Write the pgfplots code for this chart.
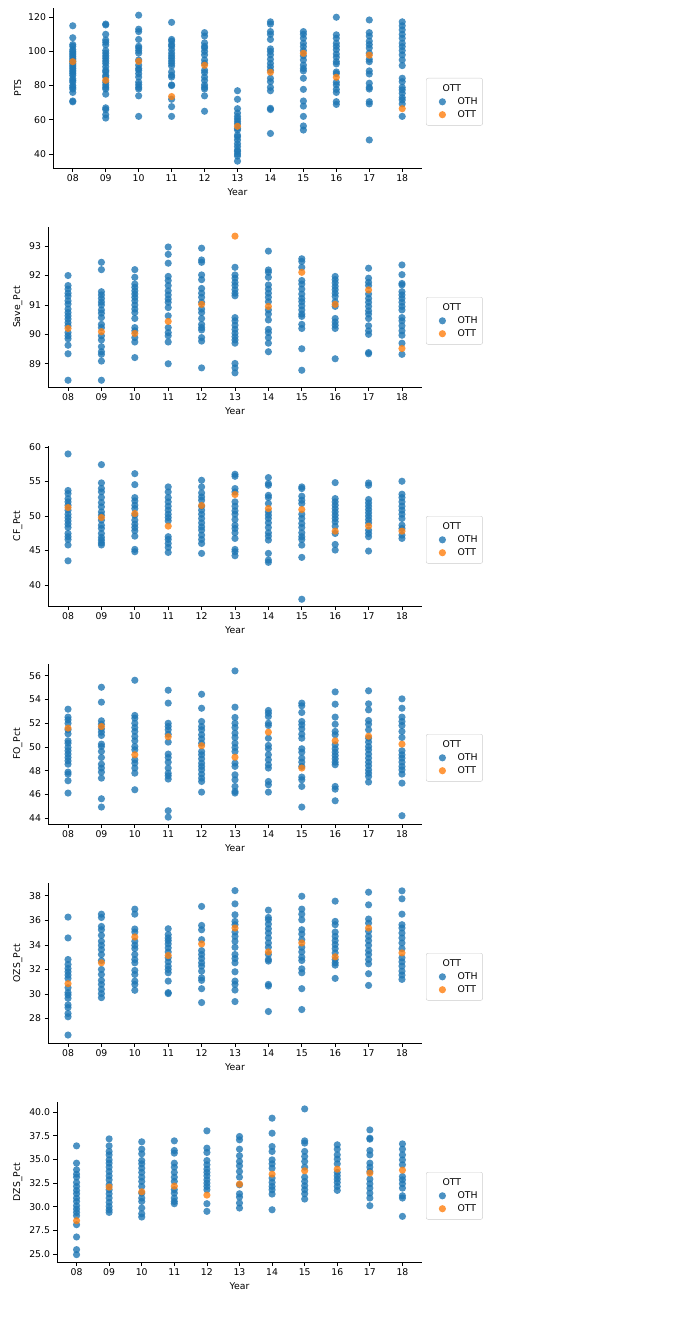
\documentclass[border=0pt]{standalone}
\usepackage{fontspec}
\setmainfont{DejaVu Sans}
\usepackage{pgfplots}
\pgfplotsset{compat=1.18}
\definecolor{c0}{HTML}{1F77B4}
\definecolor{c1}{HTML}{FF7F0E}
\definecolor{legendgray}{HTML}{CCCCCC}
\newcommand{\fs}{\fontsize{9.3}{11}\selectfont}
\pgfplotsset{
  panel/.style={
    scale only axis, height=160pt, anchor=south west,
    xmin=-0.6, xmax=10.6,
    xtick={0,1,2,3,4,5,6,7,8,9,10},
    xticklabels={08,09,10,11,12,13,14,15,16,17,18},
    axis lines=left, axis line style={-, line width=0.8pt, black},
    tick align=outside, major tick length=3.5pt,
    tick style={line width=0.8pt, black},
    xlabel={Year},
    ticklabel style={font=\fs},
    label style={font=\fs},
    /pgf/number format/assume math mode=true,
    legend style={at={(1,1)}, anchor=north west, xshift=4pt, yshift=-70pt,
      draw=legendgray, rounded corners=2pt, fill=white, fill opacity=0.8, text opacity=1,
      font=\fs, row sep=0.5pt, inner xsep=3pt, inner ysep=4.5pt},
    legend cell align=left,
  },
  oth/.style={only marks, mark=*, mark size=3.6pt,
    mark options={fill=c0, draw=c0, fill opacity=0.8, draw opacity=0},
    legend image code/.code={\path (0pt,0pt) (26pt,0pt); \draw[##1] plot coordinates {(13pt,0pt)};}},
  ott/.style={only marks, mark=*, mark size=3.6pt,
    mark options={fill=c1, draw=c1, fill opacity=0.8, draw opacity=0},
    legend image code/.code={\path (0pt,0pt) (26pt,0pt); \draw[##1] plot coordinates {(13pt,0pt)};}},
}
\begin{document}
\begin{tikzpicture}
\useasboundingbox (0,0) rectangle (697pt,-1336pt);
% ---------------- PTS
\begin{axis}[panel, at={(53pt,-168pt)}, width=369pt, ymin=31.8, ymax=125.4,
  ytick={40,60,80,100,120}, ylabel={PTS}]
\addlegendimage{empty legend}\addlegendentry{\hspace*{-15pt}OTT}
\addplot[oth] coordinates {
(0,115)(0,108)(0,104)(0,103)(0,101)(0,100)(0,99)(0,98)(0,97)(0,96)(0,95)(0,94)(0,93)(0,92)(0,91)(0,90)(0,89)(0,88)(0,87)(0,86)(0,84)(0,83)(0,82)(0,80)(0,79)(0,78)(0,76)(0,71)(0,70.5)
(1,116)(1,115.5)(1,110)(1,106.7)(1,105.4)(1,103.8)(1,100.5)(1,99)(1,97.4)(1,96)(1,94.4)(1,93)(1,91)(1,89)(1,88)(1,86)(1,85)(1,82)(1,80.4)(1,79)(1,78)(1,75)(1,67)(1,66)(1,63)(1,61)
(2,121.2)(2,113)(2,111.6)(2,107)(2,103)(2,102)(2,100.5)(2,99)(2,95)(2,92)(2,90)(2,89)(2,87)(2,85)(2,82)(2,80.5)(2,79)(2,78)(2,74)(2,62)
(3,117)(3,107)(3,106)(3,104)(3,103)(3,101)(3,99)(3,97.4)(3,96)(3,94.4)(3,93)(3,91.5)(3,88)(3,86)(3,85)(3,80.4)(3,80)(3,72)(3,67.7)(3,62)
(4,111)(4,109)(4,105)(4,103)(4,102)(4,100)(4,98)(4,95)(4,93)(4,89)(4,87.6)(4,85)(4,83)(4,80.4)(4,79)(4,78)(4,74)(4,65)
(5,77)(5,72)(5,66.5)(5,64)(5,62)(5,60.5)(5,59)(5,57.6)(5,55)(5,54)(5,51)(5,50)(5,48.2)(5,46)(5,44.3)(5,42.3)(5,41.4)(5,40)(5,38.8)(5,35.8)
(6,117.3)(6,116)(6,111.6)(6,110)(6,107)(6,101.5)(6,100)(6,98)(6,95.4)(6,93)(6,91)(6,89)(6,84.3)(6,82.3)(6,79)(6,77)(6,66.7)(6,66)(6,52)
(7,111.6)(7,110)(7,107.7)(7,104.8)(7,102.8)(7,100.5)(7,97.4)(7,95)(7,92)(7,90)(7,88.6)(7,84.3)(7,77.8)(7,71)(7,68)(7,62)(7,56.4)(7,54)
(8,120)(8,109.7)(8,107.7)(8,104.8)(8,103)(8,101)(8,98.5)(8,96.6)(8,94)(8,92.7)(8,88)(8,87)(8,82)(8,80.4)(8,77.8)(8,76)(8,70.6)(8,69)
(9,118.4)(9,111)(9,109)(9,106)(9,104)(9,102)(9,99)(9,95.4)(9,94)(9,88.6)(9,86.8)(9,81.4)(9,79)(9,78)(9,70.6)(9,69.3)(9,48.2)
(10,117.3)(10,115)(10,112.6)(10,110)(10,107.7)(10,104.8)(10,102.8)(10,100.5)(10,98)(10,95)(10,91.7)(10,84.3)(10,82.3)(10,79)(10,77.5)(10,75.5)(10,73)(10,71.6)(10,69.3)(10,62)
};
\addlegendentry{OTH}
\addplot[ott] coordinates {(0,94.0)(1,83.1)(2,94.2)(3,73.6)(4,91.9)(5,56.2)(6,87.8)(7,98.9)(8,84.9)(9,97.8)(10,66.5)};
\addlegendentry{OTT}
\end{axis}
% ---------------- Save_Pct
\begin{axis}[panel, at={(48pt,-387pt)}, width=374pt, ymin=88.21, ymax=93.65,
  ytick={89,90,91,92,93}, ylabel={Save\_Pct}]
\addlegendimage{empty legend}\addlegendentry{\hspace*{-15pt}OTT}
\addplot[oth] coordinates {
(0,92.0)(0,91.66)(0,91.54)(0,91.4)(0,91.3)(0,91.14)(0,91.03)(0,90.86)(0,90.74)(0,90.63)(0,90.52)(0,90.4)(0,90.29)(0,90.06)(0,89.95)(0,89.85)(0,89.63)(0,89.34)(0,88.44)
(1,92.45)(1,92.2)(1,91.45)(1,91.34)(1,91.22)(1,91.1)(1,91.0)(1,90.83)(1,90.72)(1,90.57)(1,90.34)(1,90.23)(1,89.95)(1,89.81)(1,89.58)(1,89.41)(1,89.32)(1,89.09)(1,88.44)
(2,92.2)(2,91.94)(2,91.71)(2,91.6)(2,91.48)(2,91.37)(2,91.26)(2,91.14)(2,91.0)(2,90.86)(2,90.74)(2,90.54)(2,90.23)(2,90.12)(2,89.89)(2,89.74)(2,89.21)
(3,92.97)(3,92.72)(3,92.42)(3,91.97)(3,91.83)(3,91.66)(3,91.48)(3,91.34)(3,91.2)(3,91.09)(3,90.91)(3,90.63)(3,90.23)(3,90.06)(3,89.95)(3,89.74)(3,89.0)
(4,92.93)(4,92.53)(4,92.45)(4,92.02)(4,91.86)(4,91.56)(4,91.4)(4,91.26)(4,91.09)(4,90.86)(4,90.74)(4,90.54)(4,90.34)(4,90.23)(4,90.15)(4,89.89)(4,89.77)(4,88.86)
(5,92.28)(5,92.02)(5,91.91)(5,91.77)(5,91.66)(5,91.52)(5,91.4)(5,91.31)(5,90.57)(5,90.46)(5,90.31)(5,90.17)(5,90.04)(5,89.92)(5,89.81)(5,89.7)(5,89.01)(5,88.86)(5,88.69)
(6,92.83)(6,92.19)(6,92.11)(6,91.94)(6,91.68)(6,91.54)(6,91.4)(6,91.26)(6,91.11)(6,90.83)(6,90.69)(6,90.49)(6,90.17)(6,90.06)(6,89.89)(6,89.7)(6,89.41)
(7,92.57)(7,92.48)(7,92.28)(7,91.83)(7,91.71)(7,91.54)(7,91.37)(7,91.22)(7,91.11)(7,90.97)(7,90.83)(7,90.69)(7,90.61)(7,90.34)(7,90.2)(7,89.51)(7,88.78)
(8,91.97)(8,91.86)(8,91.75)(8,91.63)(8,91.52)(8,91.4)(8,91.29)(8,91.11)(8,90.95)(8,90.54)(8,90.42)(8,90.31)(8,90.2)(8,89.17)
(9,92.25)(9,91.91)(9,91.77)(9,91.66)(9,91.37)(9,91.22)(9,91.09)(9,90.95)(9,90.8)(9,90.69)(9,90.54)(9,90.29)(9,90.12)(9,90.0)(9,89.38)(9,89.34)
(10,92.36)(10,92.03)(10,91.73)(10,91.68)(10,91.45)(10,91.34)(10,91.22)(10,91.09)(10,90.95)(10,90.83)(10,90.57)(10,90.46)(10,90.29)(10,90.12)(10,89.97)(10,89.7)(10,89.32)
};
\addlegendentry{OTH}
\addplot[ott] coordinates {(0,90.20)(1,90.09)(2,90.03)(3,90.44)(4,91.02)(5,93.34)(6,90.95)(7,92.11)(8,91.02)(9,91.51)(10,89.52)};
\addlegendentry{OTT}
\end{axis}
% ---------------- CF_Pct
\begin{axis}[panel, at={(48pt,-606pt)}, width=374pt, ymin=36.95, ymax=60.15,
  ytick={40,45,50,55,60}, ylabel={CF\_Pct}]
\addlegendimage{empty legend}\addlegendentry{\hspace*{-15pt}OTT}
\addplot[oth] coordinates {
(0,59.0)(0,53.7)(0,53.25)(0,52.5)(0,52.05)(0,51.57)(0,50.84)(0,50.26)(0,49.78)(0,49.3)(0,48.82)(0,48.34)(0,47.47)(0,47.0)(0,46.6)(0,45.8)(0,43.5)
(1,57.45)(1,54.8)(1,54.0)(1,53.5)(1,52.7)(1,51.95)(1,51.33)(1,50.6)(1,50.12)(1,49.4)(1,48.67)(1,48.2)(1,47.47)(1,46.9)(1,46.5)(1,46.1)(1,45.8)
(2,56.14)(2,54.55)(2,52.67)(2,52.19)(2,51.57)(2,51.08)(2,50.12)(2,49.4)(2,48.82)(2,48.34)(2,47.86)(2,47.08)(2,45.16)(2,44.82)
(3,54.22)(3,53.49)(3,52.67)(3,52.05)(3,51.42)(3,50.84)(3,50.26)(3,49.78)(3,49.3)(3,47.0)(3,46.6)(3,46.02)(3,45.45)(3,44.72)
(4,55.18)(4,54.22)(4,53.35)(4,52.77)(4,52.29)(4,51.42)(4,50.84)(4,50.26)(4,49.64)(4,49.01)(4,48.43)(4,47.95)(4,47.23)(4,46.6)(4,46.02)(4,44.58)
(5,56.05)(5,55.76)(5,53.98)(5,53.49)(5,52.05)(5,51.42)(5,50.75)(5,50.26)(5,49.49)(5,48.67)(5,48.19)(5,47.57)(5,46.75)(5,45.16)(5,44.82)(5,44.24)
(6,55.57)(6,54.7)(6,54.46)(6,53.0)(6,52.67)(6,51.81)(6,50.6)(6,50.12)(6,49.64)(6,49.01)(6,48.34)(6,47.57)(6,47.08)(6,46.51)(6,44.58)(6,43.61)(6,43.28)
(7,54.22)(7,53.98)(7,52.87)(7,52.29)(7,51.81)(7,50.26)(7,49.64)(7,48.92)(7,48.34)(7,47.57)(7,47.0)(7,46.6)(7,45.78)(7,44.0)(7,37.93)
(8,54.84)(8,52.53)(8,52.05)(8,51.57)(8,51.08)(8,50.6)(8,50.12)(8,49.64)(8,49.16)(8,48.53)(8,47.47)(8,45.88)(8,45.06)
(9,54.79)(9,54.46)(9,52.39)(9,51.9)(9,51.42)(9,50.94)(9,50.46)(9,49.98)(9,49.49)(9,49.01)(9,47.95)(9,47.47)(9,47.0)(9,44.92)
(10,55.04)(10,53.16)(10,52.67)(10,52.05)(10,51.42)(10,50.84)(10,50.26)(10,49.64)(10,48.67)(10,48.19)(10,47.23)(10,46.75)
};
\addlegendentry{OTH}
\addplot[ott] coordinates {(0,51.23)(1,49.78)(2,50.36)(3,48.53)(4,51.52)(5,53.11)(6,51.08)(7,50.94)(8,47.81)(9,48.53)(10,47.81)};
\addlegendentry{OTT}
\end{axis}
% ---------------- FO_Pct
\begin{axis}[panel, at={(48pt,-824pt)}, width=374pt, ymin=43.5, ymax=57.0,
  ytick={44,46,48,50,52,54,56}, ylabel={FO\_Pct}]
\addlegendimage{empty legend}\addlegendentry{\hspace*{-15pt}OTT}
\addplot[oth] coordinates {
(0,53.19)(0,52.52)(0,52.29)(0,52.0)(0,51.45)(0,51.11)(0,50.52)(0,50.32)(0,49.96)(0,49.68)(0,49.4)(0,49.11)(0,48.83)(0,48.55)(0,47.88)(0,47.71)(0,47.15)(0,46.11)
(1,55.04)(1,53.78)(1,52.21)(1,51.92)(1,51.53)(1,51.25)(1,50.97)(1,50.24)(1,50.04)(1,49.62)(1,49.11)(1,48.55)(1,48.22)(1,47.88)(1,47.37)(1,45.63)(1,44.93)
(2,55.63)(2,52.66)(2,52.43)(2,52.0)(2,51.64)(2,51.31)(2,50.89)(2,50.52)(2,50.04)(2,49.76)(2,48.92)(2,48.64)(2,48.22)(2,47.79)(2,46.39)
(3,54.79)(3,53.7)(3,52.0)(3,51.73)(3,51.45)(3,51.08)(3,50.41)(3,49.4)(3,49.11)(3,48.72)(3,48.22)(3,47.79)(3,47.57)(3,47.29)(3,44.62)(3,44.08)
(4,54.45)(4,53.27)(4,52.15)(4,51.73)(4,51.45)(4,51.03)(4,50.69)(4,50.32)(4,49.62)(4,49.34)(4,49.0)(4,48.64)(4,48.36)(4,48.07)(4,47.71)(4,47.37)(4,47.09)(4,46.19)
(5,56.42)(5,53.36)(5,52.49)(5,52.0)(5,51.64)(5,51.17)(5,50.8)(5,50.32)(5,49.96)(5,49.62)(5,48.64)(5,48.36)(5,47.65)(5,47.23)(5,46.67)(5,46.25)(5,46.11)
(6,53.08)(6,52.85)(6,52.57)(6,52.0)(6,51.81)(6,50.74)(6,50.13)(6,49.85)(6,49.34)(6,48.92)(6,48.5)(6,48.22)(6,47.09)(6,46.81)(6,46.19)
(7,53.7)(7,53.47)(7,52.91)(7,52.15)(7,51.87)(7,51.53)(7,51.08)(7,50.74)(7,49.85)(7,49.56)(7,49.06)(7,48.72)(7,48.36)(7,47.46)(7,47.23)(7,46.67)(7,44.93)
(8,54.65)(8,53.61)(8,52.52)(8,51.92)(8,51.31)(8,51.03)(8,50.18)(8,49.85)(8,49.56)(8,49.28)(8,49.0)(8,48.72)(8,48.5)(8,46.67)(8,46.44)(8,45.46)
(9,54.74)(9,53.64)(9,53.13)(9,52.23)(9,51.92)(9,51.45)(9,50.74)(9,50.41)(9,50.04)(9,49.76)(9,49.4)(9,49.06)(9,48.72)(9,48.41)(9,48.07)(9,47.79)(9,47.51)(9,47.04)
(10,54.06)(10,53.27)(10,52.52)(10,52.15)(10,51.81)(10,51.31)(10,50.8)(10,49.68)(10,49.34)(10,49.06)(10,48.72)(10,48.36)(10,48.07)(10,47.71)(10,46.95)(10,44.2)
};
\addlegendentry{OTH}
\addplot[ott] coordinates {(0,51.59)(1,51.73)(2,49.34)(3,50.86)(4,50.10)(5,49.14)(6,51.25)(7,48.22)(8,50.52)(9,50.91)(10,50.24)};
\addlegendentry{OTT}
\end{axis}
% ---------------- OZS_Pct
\begin{axis}[panel, at={(48pt,-1043pt)}, width=374pt, ymin=26.0, ymax=39.05,
  ytick={28,30,32,34,36,38}, ylabel={OZS\_Pct}]
\addlegendimage{empty legend}\addlegendentry{\hspace*{-15pt}OTT}
\addplot[oth] coordinates {
(0,36.27)(0,34.57)(0,32.81)(0,32.41)(0,32.08)(0,31.81)(0,31.54)(0,31.27)(0,30.51)(0,30.11)(0,29.92)(0,29.65)(0,29.11)(0,28.89)(0,28.41)(0,28.14)(0,26.65)
(1,36.51)(1,36.24)(1,35.51)(1,35.24)(1,34.78)(1,34.3)(1,33.97)(1,33.62)(1,33.22)(1,32.73)(1,32.0)(1,31.59)(1,31.11)(1,30.78)(1,30.38)(1,30.03)(1,29.7)
(2,36.92)(2,36.51)(2,35.3)(2,35.05)(2,34.3)(2,33.97)(2,33.7)(2,33.22)(2,32.81)(2,32.54)(2,31.92)(2,31.59)(2,31.05)(2,30.78)(2,30.3)
(3,35.32)(3,34.84)(3,34.57)(3,34.35)(3,34.08)(3,33.76)(3,33.43)(3,32.95)(3,32.62)(3,32.27)(3,32.0)(3,31.73)(3,31.05)(3,30.11)(3,30.03)
(4,37.14)(4,35.59)(4,35.24)(4,34.43)(4,33.54)(4,33.22)(4,32.89)(4,32.54)(4,32.27)(4,31.86)(4,31.32)(4,31.11)(4,30.43)(4,29.3)
(5,38.43)(5,37.35)(5,36.46)(5,35.92)(5,35.65)(5,35.05)(5,34.7)(5,34.3)(5,33.81)(5,33.22)(5,32.89)(5,32.54)(5,31.81)(5,31.05)(5,30.78)(5,30.32)(5,29.38)
(6,36.84)(6,36.24)(6,36.05)(6,35.7)(6,35.32)(6,34.97)(6,34.57)(6,34.16)(6,33.81)(6,33.22)(6,32.81)(6,32.68)(6,30.78)(6,30.65)(6,28.57)
(7,37.97)(7,36.92)(7,36.51)(7,36.05)(7,35.24)(7,34.89)(7,34.43)(7,33.81)(7,33.43)(7,33.0)(7,32.73)(7,32.05)(7,31.73)(7,30.43)(7,28.73)
(8,37.57)(8,35.92)(8,35.65)(8,35.05)(8,34.7)(8,34.35)(8,34.03)(8,33.7)(8,33.35)(8,32.81)(8,32.54)(8,32.35)(8,31.27)
(9,38.3)(9,37.27)(9,36.11)(9,35.78)(9,35.11)(9,34.7)(9,34.35)(9,33.97)(9,33.54)(9,33.22)(9,32.81)(9,32.46)(9,31.65)(9,30.7)
(10,38.41)(10,37.76)(10,36.51)(10,35.65)(10,35.38)(10,34.97)(10,34.57)(10,34.16)(10,33.7)(10,32.95)(10,32.62)(10,32.27)(10,31.86)(10,31.54)(10,31.19)
};
\addlegendentry{OTH}
\addplot[ott] coordinates {(0,30.84)(1,32.54)(2,34.65)(3,33.14)(4,34.08)(5,35.38)(6,33.43)(7,34.16)(8,33.03)(9,35.38)(10,33.35)};
\addlegendentry{OTT}
\end{axis}
% ---------------- DZS_Pct
\begin{axis}[panel, at={(57pt,-1262pt)}, width=365pt, ymin=24.15, ymax=41.08,
  ytick={25,27.5,30,32.5,35,37.5,40}, ylabel={DZS\_Pct},
  yticklabel style={/pgf/number format/fixed, /pgf/number format/fixed zerofill, /pgf/number format/precision=1}]
\addlegendimage{empty legend}\addlegendentry{\hspace*{-15pt}OTT}
\addplot[oth] coordinates {
(0,36.44)(0,34.61)(0,33.91)(0,33.45)(0,33.13)(0,32.57)(0,32.15)(0,31.73)(0,31.37)(0,30.92)(0,30.56)(0,30.11)(0,29.75)(0,29.4)(0,29.05)(0,28.1)(0,26.8)(0,25.46)(0,24.93)
(1,37.18)(1,36.44)(1,35.85)(1,35.49)(1,34.96)(1,34.61)(1,34.19)(1,33.73)(1,33.27)(1,32.85)(1,32.32)(1,31.8)(1,31.37)(1,30.92)(1,30.46)(1,30.04)(1,29.68)(1,29.4)
(2,36.87)(2,36.09)(2,35.6)(2,34.89)(2,34.54)(2,34.08)(2,33.63)(2,33.13)(2,32.68)(2,32.15)(2,31.44)(2,30.92)(2,30.56)(2,29.86)(2,29.26)(2,28.91)
(3,36.97)(3,35.95)(3,35.67)(3,34.61)(3,34.19)(3,33.63)(3,33.13)(3,32.68)(3,31.8)(3,31.44)(3,30.92)(3,30.56)(3,30.32)
(4,38.03)(4,36.2)(4,35.74)(4,34.89)(4,34.44)(4,33.98)(4,33.63)(4,33.27)(4,32.85)(4,32.5)(4,32.15)(4,31.8)(4,30.32)(4,29.51)
(5,37.43)(5,37.08)(5,36.09)(5,35.39)(5,34.79)(5,34.33)(5,33.73)(5,33.13)(5,32.32)(5,31.37)(5,31.02)(5,30.39)(5,29.86)
(6,39.37)(6,37.78)(6,36.37)(6,35.85)(6,34.96)(6,34.54)(6,34.08)(6,33.03)(6,32.57)(6,32.15)(6,31.8)(6,31.34)(6,29.68)
(7,40.35)(7,36.97)(7,36.73)(7,35.85)(7,35.32)(7,34.79)(7,34.19)(7,33.13)(7,32.68)(7,32.22)(7,31.8)(7,31.37)(7,30.81)
(8,36.55)(8,36.09)(8,35.49)(8,35.04)(8,34.54)(8,33.63)(8,33.27)(8,32.92)(8,32.57)(8,32.15)(8,31.73)
(9,38.13)(9,37.25)(9,37.15)(9,35.95)(9,35.49)(9,34.61)(9,34.19)(9,33.73)(9,32.92)(9,32.43)(9,31.97)(9,31.44)(9,30.92)(9,30.11)
(10,36.65)(10,36.09)(10,35.49)(10,34.96)(10,34.44)(10,33.2)(10,32.85)(10,32.43)(10,31.97)(10,31.16)(10,30.92)(10,28.98)
};
\addlegendentry{OTH}
\addplot[ott] coordinates {(0,28.52)(1,32.08)(2,31.58)(3,32.18)(4,31.23)(5,32.39)(6,33.45)(7,33.80)(8,33.98)(9,33.56)(10,33.87)};
\addlegendentry{OTT}
\end{axis}
\end{tikzpicture}
\end{document}
